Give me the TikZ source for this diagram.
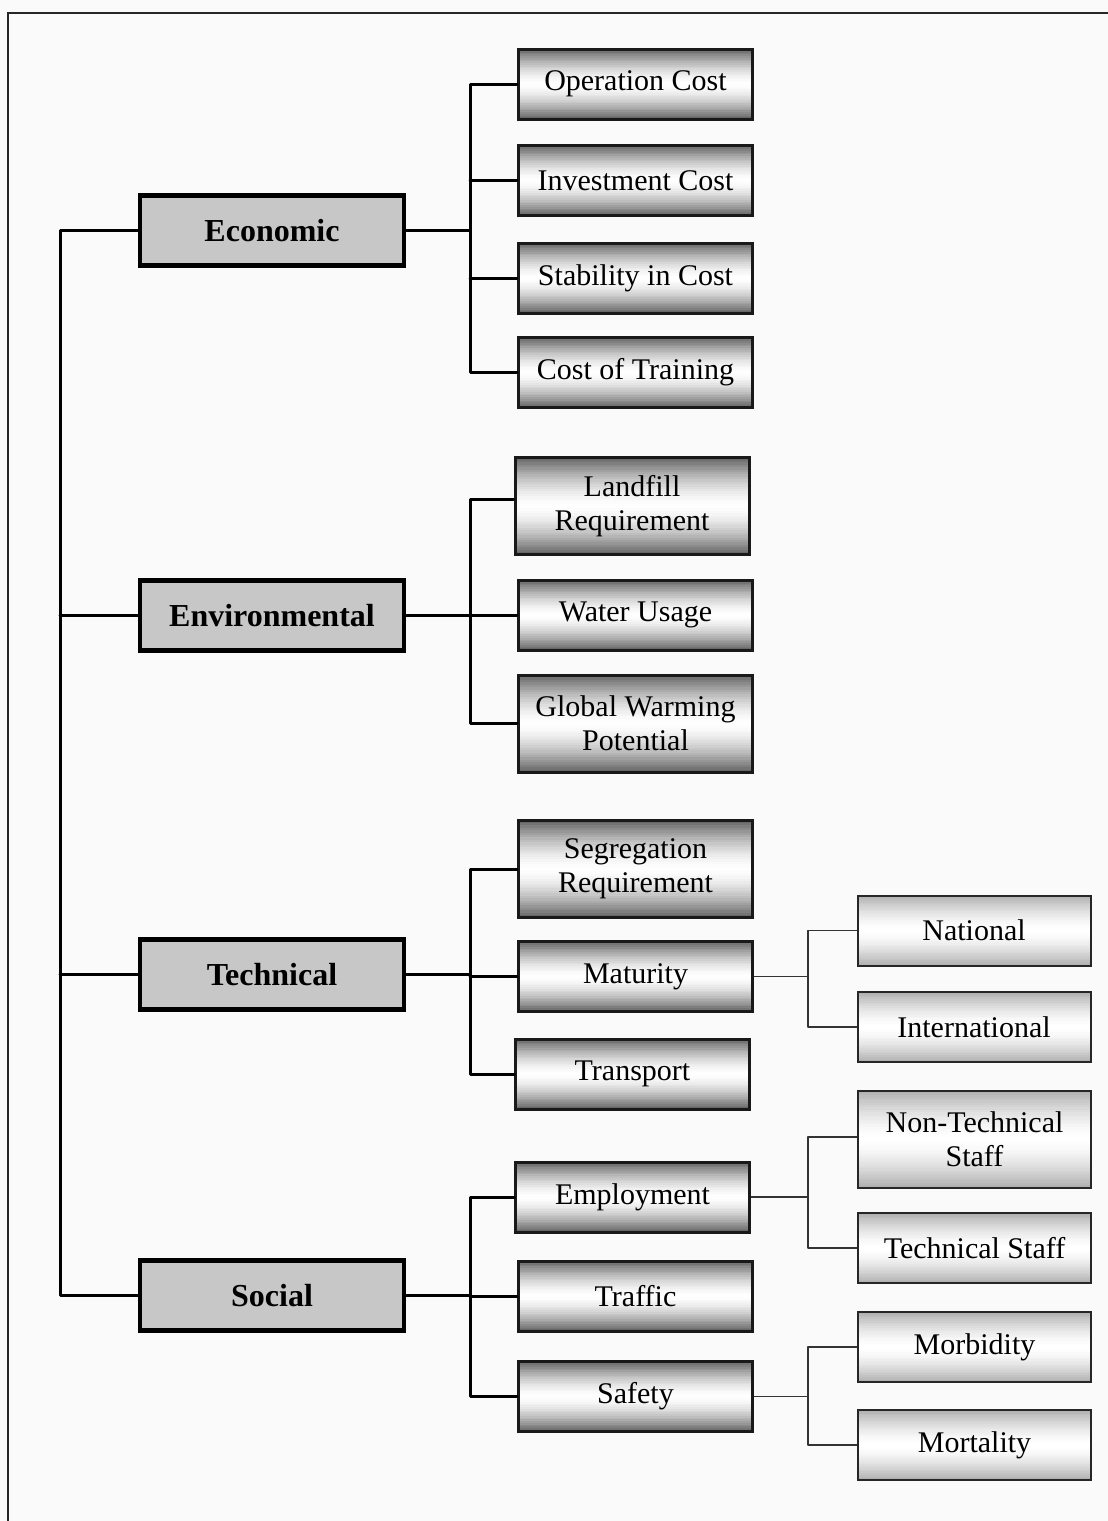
\documentclass[tikz,border=0pt]{standalone}
\usepackage{fontspec}
\setmainfont{Liberation Serif}
\usetikzlibrary{calc}
\begin{document}
\begin{tikzpicture}[x=1pt,y=-1pt,
  gradfill/.style={path picture={
    \foreach \i in {0,...,39}{
      \pgfmathsetmacro\ta{\i/40}
      \pgfmathsetmacro\tb{min(1,(\i+1.3)/40)}
      \pgfmathsetmacro\sh{#1*abs(2*(\i+0.5)/40-1)^1.6}
      \fill[black!\sh] ($(path picture bounding box.north west)!\ta!(path picture bounding box.south west)$) rectangle ($(path picture bounding box.north east)!\tb!(path picture bounding box.south east)$);
    }}},
  mainbox/.style={draw=black, line width=4.5pt, fill=black!22, minimum width=264pt, minimum height=70pt, inner sep=0pt, font=\fontsize{32}{36}\selectfont\bfseries},
  subbox/.style={draw=black!90, line width=3pt, gradfill=62, minimum width=234pt, minimum height=70pt, inner sep=0pt, align=center, font=\fontsize{30}{34}\selectfont},
  leafbox/.style={draw=black!85, line width=2pt, gradfill=32, minimum width=233pt, minimum height=70pt, inner sep=0pt, align=center, font=\fontsize{30}{34}\selectfont},
  tall/.style={minimum height=97pt},
  thick conn/.style={line width=3pt, line cap=round, line join=round},
  thin conn/.style={line width=1.6pt, black!80, line join=round}
]
\useasboundingbox (0,0) rectangle (1108,1521);
\fill[black!2] (0,0) rectangle (1108,1521);
% frame
\coordinate (fTL) at (8,13);
\coordinate (fTR) at (1108,13);
\coordinate (fBL) at (8,1521);
\draw[line width=2pt, black!85] (fTR) -- (fTL) -- (fBL);

% main boxes
\node[mainbox] (eco) at (272,230.5) {Economic};
\node[mainbox] (env) at (272,615.5) {Environmental};
\node[mainbox] (tec) at (272,974.5) {Technical};
\node[mainbox] (soc) at (272,1295.5) {Social};

% second level
\node[subbox] (oc) at (635.5,84) {Operation Cost};
\node[subbox] (ic) at (635.5,180.5) {Investment Cost};
\node[subbox] (sc) at (635.5,278) {Stability in Cost};
\node[subbox] (ct) at (635.5,372.5) {Cost of Training};
\node[subbox,tall] (lr) at (632,506) {Landfill\\Requirement};
\node[subbox] (wu) at (635.5,615) {Water Usage};
\node[subbox,tall] (gw) at (635.5,723.5) {Global Warming\\Potential};
\node[subbox,tall] (sr) at (635.5,869) {Segregation\\Requirement};
\node[subbox] (mt) at (635.5,976.5) {Maturity};
\node[subbox] (tp) at (632.5,1074) {Transport};
\node[subbox] (em) at (632.5,1197) {Employment};
\node[subbox] (tf) at (635.5,1296) {Traffic};
\node[subbox] (sf) at (635.5,1396.5) {Safety};

% third level
\node[leafbox] (na) at (974,930.5) {National};
\node[leafbox] (in) at (974,1027) {International};
\node[leafbox,tall] (nt) at (974.5,1139) {Non-Technical\\Staff};
\node[leafbox] (ts) at (974.5,1248) {Technical Staff};
\node[leafbox] (mb) at (974.5,1347) {Morbidity};
\node[leafbox] (ml) at (974.5,1445) {Mortality};

% spine coordinates
\coordinate (sx0) at (60,0);
\coordinate (sx1) at (470,0);
\coordinate (sx2) at (808,0);

% left spine
\draw[thick conn] (eco.west) -- (eco.west -| sx0) -- (soc.west -| sx0) -- (soc.west);
\draw[thick conn] (env.west) -- (env.west -| sx0);
\draw[thick conn] (tec.west) -- (tec.west -| sx0);

% economic
\draw[thick conn] (eco.east) -- (eco.east -| sx1);
\draw[thick conn] (oc.west) -- (oc.west -| sx1) -- (ct.west -| sx1) -- (ct.west);
\draw[thick conn] (ic.west) -- (ic.west -| sx1);
\draw[thick conn] (sc.west) -- (sc.west -| sx1);

% environmental
\draw[thick conn] (env.east) -- (env.east -| sx1);
\draw[thick conn] ([yshift=7pt]lr.west) -- ([yshift=7pt]lr.west -| sx1) -- (gw.west -| sx1) -- (gw.west);
\draw[thick conn] (wu.west) -- (wu.west -| sx1);

% technical
\draw[thick conn] (tec.east) -- (tec.east -| sx1);
\draw[thick conn] (sr.west) -- (sr.west -| sx1) -- (tp.west -| sx1) -- (tp.west);
\draw[thick conn] (mt.west) -- (mt.west -| sx1);

% social
\draw[thick conn] (soc.east) -- (soc.east -| sx1);
\draw[thick conn] (em.west) -- (em.west -| sx1) -- (sf.west -| sx1) -- (sf.west);
\draw[thick conn] (tf.west) -- (tf.west -| sx1);

% third level connectors
\draw[thin conn] (mt.east) -- (mt.east -| sx2);
\draw[thin conn] (na.west) -- (na.west -| sx2) -- (in.west -| sx2) -- (in.west);
\draw[thin conn] (em.east) -- (em.east -| sx2);
\draw[thin conn] ([yshift=2pt]nt.west) -- ([yshift=2pt]nt.west -| sx2) -- (ts.west -| sx2) -- (ts.west);
\draw[thin conn] (sf.east) -- (sf.east -| sx2);
\draw[thin conn] (mb.west) -- (mb.west -| sx2) -- (ml.west -| sx2) -- (ml.west);
\end{tikzpicture}
\end{document}
